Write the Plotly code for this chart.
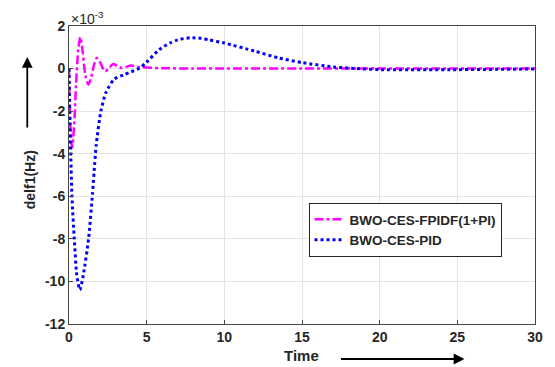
import plotly.graph_objects as go

# time samples (s) and responses (x1e-3 Hz)
t_fpidf = [0, 0.08, 0.2, 0.32, 0.45, 0.6, 0.73, 0.88, 1.05, 1.25, 1.45, 1.62, 1.79, 2.0, 2.32, 2.6, 2.85, 3.1, 3.4, 3.7, 3.97, 4.5, 5, 6, 8, 10, 15, 20, 25, 30]
d_fpidf = [0, -2.6, -3.7, -2.8, -0.8, 0.9, 1.47, 0.8, -0.3, -0.75, -0.35, 0.2, 0.5, 0.3, -0.13, 0.05, 0.22, 0.12, 0.03, 0.08, 0.14, 0.08, 0.05, 0.02, 0.0, 0.0, 0.0, 0.0, 0.0, 0.0]

t_pid = [0, 0.06, 0.19, 0.34, 0.5, 0.7, 0.92, 1.26, 1.51, 1.62, 1.75, 2.05, 2.37, 2.9, 3.5, 4.0, 4.5, 5.0, 5.8, 6.5, 7.0, 7.8, 8.5, 9.0, 10, 12, 13.5, 15, 17, 18.5, 20, 25, 30]
d_pid = [0, -2.5, -6.0, -8.0, -9.7, -10.4, -9.7, -8.0, -5.9, -4.8, -3.6, -2.0, -1.14, -0.5, -0.3, -0.15, 0.0, 0.3, 0.89, 1.2, 1.35, 1.45, 1.42, 1.35, 1.2, 0.81, 0.5, 0.28, 0.08, 0.0, -0.05, -0.05, -0.02]

x_ticks = [0, 5, 10, 15, 20, 25, 30]
y_ticks = [-12, -10, -8, -6, -4, -2, 0, 2]
y_tick_text = ["-12", "-10", "-8", "-6", "-4", "-2", "0", "2"]

fig = go.Figure()
fig.add_trace(go.Scatter(x=t_fpidf, y=d_fpidf, mode="lines", name="BWO-CES-FPIDF(1+PI)",
                         line=dict(color="#FF00FF", width=2.5, dash="dashdot", shape="spline", smoothing=0.8)))
fig.add_trace(go.Scatter(x=t_pid, y=d_pid, mode="lines", name="BWO-CES-PID",
                         line=dict(color="#0000FF", width=3, dash="dot", shape="spline", smoothing=0.6)))

axis_common = dict(showline=True, linecolor="#444444", linewidth=1, mirror=True,
                   ticks="inside", ticklen=4, tickcolor="#444444",
                   showgrid=True, gridcolor="#E3E3E3", gridwidth=1, zeroline=False,
                   tickfont=dict(family="Liberation Sans", size=14, color="#262626", weight="bold"))

fig.update_layout(
    width=555, height=367,
    margin=dict(l=69, r=17, t=26, b=43),
    paper_bgcolor="white", plot_bgcolor="white",
    font=dict(family="Liberation Sans", color="#262626"),
    xaxis=dict(range=[0, 30], tickvals=x_ticks, **axis_common),
    yaxis=dict(range=[-12, 2], tickvals=y_ticks, ticktext=y_tick_text, **axis_common),
    legend=dict(x=0.514, y=0.406, xanchor="left", yanchor="top",
                bgcolor="white", bordercolor="#262626", borderwidth=1,
                font=dict(family="Liberation Sans", size=13.5, color="#262626", weight="bold"),
                tracegroupgap=0, itemwidth=30),
    showlegend=True,
)

# x10^-3 multiplier
fig.add_annotation(xref="paper", yref="paper", x=0.0, y=1.0, xanchor="left", yanchor="bottom",
                   text="×10<sup>-3</sup>", showarrow=False,
                   font=dict(family="Liberation Sans", size=14, color="#262626"), yshift=-3)
# x label
fig.add_annotation(xref="paper", yref="paper", x=(303 - 69) / 469, y=(324 - 355) / 298,
                   xanchor="center", yanchor="middle", text="<b>Time</b>", showarrow=False,
                   font=dict(family="Liberation Sans", size=15, color="#262626"))
# horizontal arrow
fig.add_annotation(xref="paper", yref="paper", x=(467 - 69) / 469, y=(324 - 359) / 298,
                   ax=-125, ay=0, text="", showarrow=True, arrowhead=2, arrowsize=1.2,
                   arrowwidth=1.8, arrowcolor="black")
# y label
fig.add_annotation(xref="paper", yref="paper", x=(30 - 69) / 469, y=(324 - 180) / 298,
                   xanchor="center", yanchor="middle", text="<b>delf1(Hz)</b>", textangle=-90,
                   showarrow=False, font=dict(family="Liberation Sans", size=14, color="#262626"))
# vertical arrow
fig.add_annotation(xref="paper", yref="paper", x=(27 - 69) / 469, y=(324 - 57) / 298,
                   ax=0, ay=72, text="", showarrow=True, arrowhead=2, arrowsize=1.2,
                   arrowwidth=1.8, arrowcolor="black")

fig.write_html("out.html", config={"displayModeBar": False},
               post_script="document.body.style.margin='0';")
